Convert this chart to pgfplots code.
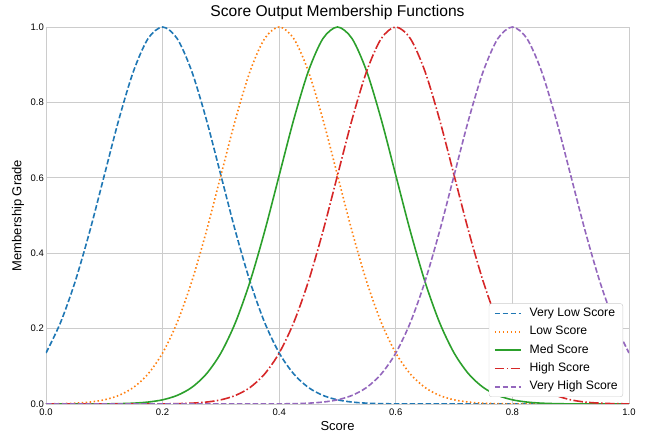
\documentclass[border=0pt]{standalone}
\usepackage{pgfplots}
\usepackage{pgfplotstable}
\pgfplotsset{compat=1.18}
\usepackage{fontspec}
\setmainfont{Liberation Sans}
\definecolor{cblue}{HTML}{1F77B4}
\definecolor{corange}{HTML}{FF7F0E}
\definecolor{cgreen}{HTML}{2CA02C}
\definecolor{cred}{HTML}{D62728}
\definecolor{cpurple}{HTML}{9467BD}
\definecolor{gridc}{HTML}{CCCCCC}
\pgfplotstableread{
x VL L M H VH
0.000 0.1353 0.0003 0.0000 0.0000 0.0000
0.025 0.2163 0.0009 0.0000 0.0000 0.0000
0.050 0.3247 0.0022 0.0000 0.0000 0.0000
0.075 0.4578 0.0051 0.0001 0.0000 0.0000
0.100 0.6065 0.0111 0.0003 0.0000 0.0000
0.125 0.7548 0.0228 0.0009 0.0000 0.0000
0.150 0.8825 0.0439 0.0022 0.0000 0.0000
0.175 0.9692 0.0796 0.0051 0.0001 0.0000
0.200 1.0000 0.1353 0.0111 0.0003 0.0000
0.225 0.9692 0.2163 0.0228 0.0009 0.0000
0.250 0.8825 0.3247 0.0439 0.0022 0.0000
0.275 0.7548 0.4578 0.0796 0.0051 0.0000
0.300 0.6065 0.6065 0.1353 0.0111 0.0000
0.325 0.4578 0.7548 0.2163 0.0228 0.0000
0.350 0.3247 0.8825 0.3247 0.0439 0.0000
0.375 0.2163 0.9692 0.4578 0.0796 0.0001
0.400 0.1353 1.0000 0.6065 0.1353 0.0003
0.425 0.0796 0.9692 0.7548 0.2163 0.0009
0.450 0.0439 0.8825 0.8825 0.3247 0.0022
0.475 0.0228 0.7548 0.9692 0.4578 0.0051
0.500 0.0111 0.6065 1.0000 0.6065 0.0111
0.525 0.0051 0.4578 0.9692 0.7548 0.0228
0.550 0.0022 0.3247 0.8825 0.8825 0.0439
0.575 0.0009 0.2163 0.7548 0.9692 0.0796
0.600 0.0003 0.1353 0.6065 1.0000 0.1353
0.625 0.0001 0.0796 0.4578 0.9692 0.2163
0.650 0.0000 0.0439 0.3247 0.8825 0.3247
0.675 0.0000 0.0228 0.2163 0.7548 0.4578
0.700 0.0000 0.0111 0.1353 0.6065 0.6065
0.725 0.0000 0.0051 0.0796 0.4578 0.7548
0.750 0.0000 0.0022 0.0439 0.3247 0.8825
0.775 0.0000 0.0009 0.0228 0.2163 0.9692
0.800 0.0000 0.0003 0.0111 0.1353 1.0000
0.825 0.0000 0.0001 0.0051 0.0796 0.9692
0.850 0.0000 0.0000 0.0022 0.0439 0.8825
0.875 0.0000 0.0000 0.0009 0.0228 0.7548
0.900 0.0000 0.0000 0.0003 0.0111 0.6065
0.925 0.0000 0.0000 0.0001 0.0051 0.4578
0.950 0.0000 0.0000 0.0000 0.0022 0.3247
0.975 0.0000 0.0000 0.0000 0.0009 0.2163
1.000 0.0000 0.0000 0.0000 0.0003 0.1353
}\data
\begin{document}
\begin{tikzpicture}
\begin{axis}[
  scale only axis,
  width=583bp, height=377bp,
  xmin=0, xmax=1, ymin=0, ymax=1,
  axis line style={draw=none},
  major tick length=0pt,
  grid=major,
  grid style={gridc, line width=0.8bp},
  xtick={0,0.2,0.4,0.6,0.8,1.0},
  ytick={0,0.2,0.4,0.6,0.8,1.0},
  /pgf/number format/assume math mode=true,
  xticklabel style={/pgf/number format/.cd,fixed,fixed zerofill,precision=1,/tikz/.cd, font=\fontsize{9.5bp}{11bp}\selectfont, inner sep=1bp, yshift=-4bp},
  yticklabel style={/pgf/number format/.cd,fixed,fixed zerofill,precision=1,/tikz/.cd, font=\fontsize{9.5bp}{11bp}\selectfont, inner sep=1bp, xshift=-1bp},
  title={Score Output Membership Functions},
  title style={font=\fontsize{15.6bp}{18bp}\selectfont, at={(axis description cs:0.5,1.0114)}, anchor=base, inner sep=0bp},
  xlabel={Score},
  ylabel={Membership Grade},
  xlabel style={font=\fontsize{13bp}{15bp}\selectfont, at={(axis description cs:0.5,-0.069)}, anchor=base, inner sep=0bp},
  ylabel style={font=\fontsize{13bp}{15bp}\selectfont, at={(axis description cs:-0.048,0.5)}, anchor=center, inner sep=0bp},
  legend cell align=left,
  legend style={at={(0.9897,0.0186)}, anchor=south east, draw=gridc, rounded corners=2.5bp, fill=white, font=\fontsize{12.2bp}{14bp}\selectfont, row sep=6.3bp, inner xsep=5bp, inner ysep=4bp, nodes={inner sep=0bp, text height=9bp, text depth=3bp}},
  legend style={/tikz/every odd column/.append style={column sep=8bp}},
  every axis plot/.append style={line width=1.6bp},
]
\addplot[draw=cblue, smooth, dash pattern=on 5.55bp off 2.4bp,
  legend image code/.code={\draw[draw=cblue, solid, line width=1.6bp] (0bp,0bp)--(5.5bp,0bp) (7.9bp,0bp)--(13.4bp,0bp) (15.8bp,0bp)--(21.3bp,0bp) (23.7bp,0bp)--(26bp,0bp);}]
  table[x=x,y=VL]{\data};
\addlegendentry{Very Low Score}
\addplot[draw=corange, smooth, dash pattern=on 1.5bp off 2.475bp,
  legend image code/.code={\draw[draw=corange, solid, line width=1.6bp] (0bp,0bp)--(1.5bp,0bp) (4bp,0bp)--(5.5bp,0bp) (8bp,0bp)--(9.5bp,0bp) (12bp,0bp)--(13.5bp,0bp) (16bp,0bp)--(17.5bp,0bp) (20bp,0bp)--(21.5bp,0bp) (24bp,0bp)--(25.5bp,0bp);}]
  table[x=x,y=L]{\data};
\addlegendentry{Low Score}
\addplot[draw=cgreen, smooth,
  legend image code/.code={\draw[draw=cgreen, solid, line width=1.6bp] (0bp,0bp)--(26bp,0bp);}]
  table[x=x,y=M]{\data};
\addlegendentry{Med Score}
\addplot[draw=cred, smooth, dash pattern=on 9.6bp off 2.4bp on 1.5bp off 2.4bp,
  legend image code/.code={\draw[draw=cred, solid, line width=1.6bp] (0bp,0bp)--(9.6bp,0bp) (12bp,0bp)--(13.5bp,0bp) (15.9bp,0bp)--(25.5bp,0bp);}]
  table[x=x,y=H]{\data};
\addlegendentry{High Score}
\addplot[draw=cpurple, smooth, dash pattern=on 5.55bp off 2.4bp,
  legend image code/.code={\draw[draw=cpurple, solid, line width=1.6bp] (0bp,0bp)--(5.5bp,0bp) (7.9bp,0bp)--(13.4bp,0bp) (15.8bp,0bp)--(21.3bp,0bp) (23.7bp,0bp)--(26bp,0bp);}]
  table[x=x,y=VH]{\data};
\addlegendentry{Very High Score}
\path (rel axis cs:0,0) ++(-46bp,-31bp) coordinate (bl);
\path (rel axis cs:1,1) ++(21bp,27bp) coordinate (tr);
\end{axis}
\pgfresetboundingbox
\path[use as bounding box] (bl) rectangle (tr);
\end{tikzpicture}
\end{document}
